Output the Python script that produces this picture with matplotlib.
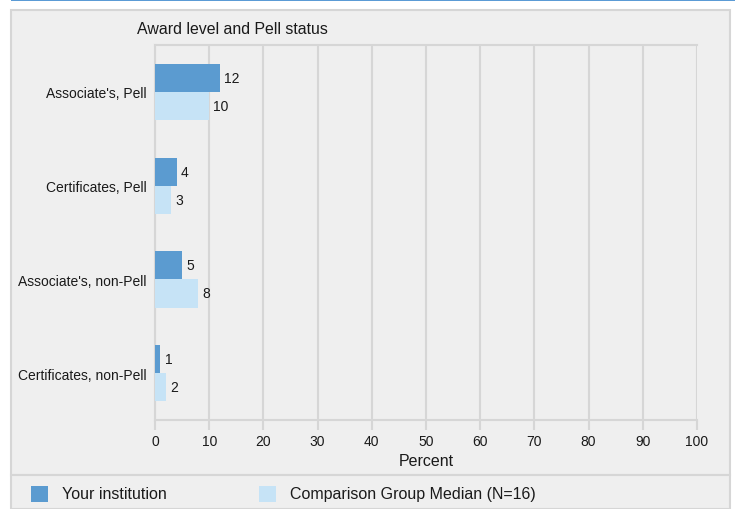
import numpy as np
import matplotlib
matplotlib.use('Agg')
import matplotlib.pyplot as plt
from matplotlib.patches import Rectangle

plt.rcParams['font.family'] = ['Liberation Sans', 'DejaVu Sans']

categories = ["Associate's, Pell", "Certificates, Pell", "Associate's, non-Pell", "Certificates, non-Pell"]
your_inst = [12, 4, 5, 1]
comparison = [10, 3, 8, 2]
legend_labels = ['Your institution', 'Comparison Group Median (N=16)']
title = 'Award level and Pell status'
xlabel = 'Percent'

dark = '#5b9bd0'
light = '#c6e3f6'
bg = '#efefef'
grid_c = '#d6d6d6'
txt = '#1a1a1a'

W, H = 735, 510
fig = plt.figure(figsize=(W / 100, H / 100), dpi=100)
fig.patch.set_facecolor('white')

def px(x0, y0, x1, y1):
    # pixel box (top-left origin) -> figure fraction
    return [x0 / W, 1 - y1 / H, (x1 - x0) / W, (y1 - y0) / H]

# top blue rule and panels (behind the axes)
fig.add_artist(Rectangle((11 / W, 1 - 2 / H), (W - 11) / W, 2 / H, transform=fig.transFigure,
                         facecolor='#5b9bd5', edgecolor='none', zorder=-2))
fig.add_artist(Rectangle((11 / W, 1 - 476 / H), 719 / W, 465 / H, transform=fig.transFigure,
                         facecolor=bg, edgecolor=grid_c, linewidth=1.5, zorder=-2))
fig.add_artist(Rectangle((11 / W, 0), 719 / W, 34 / H, transform=fig.transFigure,
                         facecolor=bg, edgecolor=grid_c, linewidth=1.5, zorder=-2))

ax = fig.add_axes(px(155, 46, 697, 421))
ax.set_facecolor(bg)

y = np.arange(len(categories))
h = 0.3
ax.barh(y - h / 2, your_inst, height=h, color=dark, zorder=3)
ax.barh(y + h / 2, comparison, height=h, color=light, zorder=3)
for i in range(len(categories)):
    ax.annotate(str(your_inst[i]), (your_inst[i], y[i] - h / 2), xytext=(3, 0), textcoords='offset points',
                va='center', ha='left', fontsize=10, color=txt)
    ax.annotate(str(comparison[i]), (comparison[i], y[i] + h / 2), xytext=(3, 0), textcoords='offset points',
                va='center', ha='left', fontsize=10, color=txt)

ax.set_xlim(0, 100)
ax.set_ylim(len(categories) - 0.5, -0.5)
ax.set_xticks(np.arange(0, 101, 10))
ax.set_yticks(y)
ax.set_yticklabels(categories, fontsize=10, color=txt)
ax.tick_params(axis='y', length=0, pad=6)
ax.tick_params(axis='x', length=7, width=1.5, color=grid_c, labelsize=10, labelcolor=txt, pad=3)
ax.grid(axis='x', color=grid_c, linewidth=1.5, zorder=0)
ax.spines['right'].set_visible(False)
for s in ['left', 'bottom', 'top']:
    ax.spines[s].set_color(grid_c)
    ax.spines[s].set_linewidth(1.5)
ax.set_xlabel(xlabel, fontsize=11.5, color=txt, labelpad=4)

fig.text(137 / W, 1 - 30 / H, title, fontsize=11.4, va='center', ha='left', color=txt)

# legend
fig.add_artist(Rectangle((31 / W, 1 - 503 / H), 17 / W, 16 / H, transform=fig.transFigure,
                         facecolor=dark, edgecolor='none'))
fig.text(62 / W, 1 - 495 / H, legend_labels[0], fontsize=11.5, va='center', ha='left', color=txt)
fig.add_artist(Rectangle((259 / W, 1 - 503 / H), 17 / W, 16 / H, transform=fig.transFigure,
                         facecolor=light, edgecolor='none'))
fig.text(290 / W, 1 - 495 / H, legend_labels[1], fontsize=11.5, va='center', ha='left', color=txt)

fig.savefig('out.png', dpi=100)
